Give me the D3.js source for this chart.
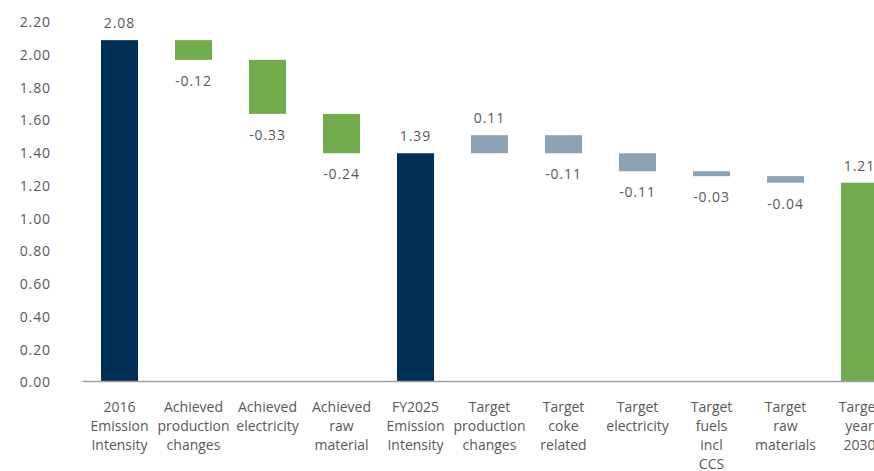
<!DOCTYPE html>
<html>
<head>
<meta charset="utf-8">
<script src="https://cdn.jsdelivr.net/npm/d3@7"></script>
<style>
  html, body { margin: 0; padding: 0; background: #fff; overflow: hidden; }
  svg { display: block; font-family: "Open Sans", sans-serif; }
  text { fill: #595959; }
</style>
</head>
<body>
<svg id="chart" width="874" height="471"></svg>
<script>
// Emission intensity bridge: 2016 -> FY2025 -> target year 2030
const categories = [
  ["2016", "Emission", "Intensity"],
  ["Achieved", "production", "changes"],
  ["Achieved", "electricity"],
  ["Achieved", "raw", "material"],
  ["FY2025", "Emission", "Intensity"],
  ["Target", "production", "changes"],
  ["Target", "coke", "related"],
  ["Target", "electricity"],
  ["Target", "fuels", "incl", "CCS"],
  ["Target", "raw", "materials"],
  ["Target", "year", "2030"]
];
const values = [2.08, -0.12, -0.33, -0.24, 1.39, 0.11, -0.11, -0.11, -0.03, -0.04, 1.21];
// "total" bars start at zero; "achieved" and "target" bars float on the running total
const kinds = ["total", "achieved", "achieved", "achieved", "total", "target", "target", "target", "target", "target", "final"];
const yTicks = [0, 0.2, 0.4, 0.6, 0.8, 1.0, 1.2, 1.4, 1.6, 1.8, 2.0, 2.2];

const colors = { total: "#012f56", achieved: "#72aa4e", target: "#8da2b3", final: "#72aa4e" };

// Two decimals, plain hyphen for negatives
const fmt = v => d3.format(".2f")(v).replace("\u2212", "-");

// Build the floating segments from the running total
let running = 0;
const bars = values.map((v, i) => {
  let start, end;
  if (kinds[i] === "total" || kinds[i] === "final") {
    start = 0; end = v; running = v;
  } else {
    start = running; end = running + v; running = end;
  }
  return { i, v, start, end, kind: kinds[i], label: categories[i] };
});

const svg = d3.select("#chart");

const x = d3.scaleBand()
  .domain(d3.range(categories.length))
  .range([82.5, 82.5 + 74 * categories.length])
  .paddingInner(0.5)
  .paddingOuter(0.25);

const y = d3.scaleLinear().domain([0, 2.2]).range([381, 20.5]);

// Y axis labels (no axis line, no ticks)
const yAxis = d3.axisLeft(y).tickValues(yTicks).tickFormat(fmt).tickSize(0).tickPadding(0);
const yg = svg.append("g").attr("transform", "translate(51,1.5)").call(yAxis);
yg.select(".domain").remove();
yg.selectAll("text")
  .attr("fill", "#595959")
  .style("font-size", "14px")
  .style("letter-spacing", "0.9px")
  .style("font-family", "'Open Sans', sans-serif");

// Bars
svg.append("g").selectAll("rect")
  .data(bars)
  .join("rect")
  .attr("x", d => x(d.i))
  .attr("width", x.bandwidth())
  .attr("y", d => y(Math.max(d.start, d.end)))
  .attr("height", d => Math.abs(y(d.start) - y(d.end)))
  .attr("fill", d => colors[d.kind]);

// Baseline
svg.append("line")
  .attr("x1", 82.5).attr("x2", 874)
  .attr("y1", y(0) + 0.5).attr("y2", y(0) + 0.5)
  .attr("stroke", "#a0a0a0").attr("stroke-width", 1.5);

// Value labels: above the bar for increases/totals, below for decreases
svg.append("g").selectAll("text")
  .data(bars)
  .join("text")
  .attr("x", d => x(d.i) + x.bandwidth() / 2)
  .attr("y", d => d.v >= 0 ? y(d.end) - 12 : y(d.end) + 26)
  .attr("text-anchor", "middle")
  .style("font-size", "14px")
  .style("letter-spacing", "0.9px")
  .text(d => fmt(d.v));

// Category labels, multi-line
const cat = svg.append("g").selectAll("text")
  .data(bars)
  .join("text")
  .attr("text-anchor", "middle")
  .style("font-size", "14px")
  .attr("transform", d => `translate(${x(d.i) + x.bandwidth() / 2},412)`);
cat.selectAll("tspan")
  .data(d => d.label)
  .join("tspan")
  .attr("x", 0)
  .attr("dy", (d, j) => j === 0 ? 0 : 19)
  .text(d => d);
</script>
</body>
</html>
